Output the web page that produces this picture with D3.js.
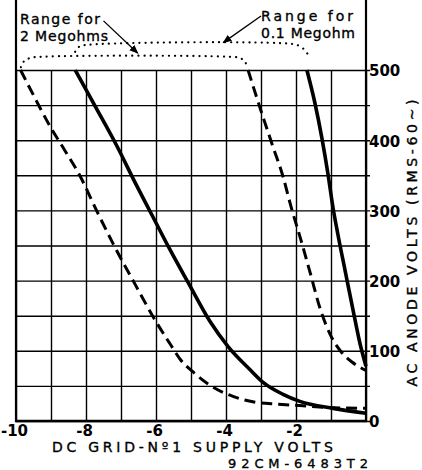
<!DOCTYPE html>
<html>
<head>
<meta charset="utf-8">
<script src="https://cdn.jsdelivr.net/npm/d3@7"></script>
<style>
  body { margin: 0; background: #fff; }
  svg { display: block; }
  text { font-family: "DejaVu Sans", sans-serif; fill: #000; }
</style>
</head>
<body>
<script>
// grid and tick values
var xGridValues = [-10, -9, -8, -7, -6, -5, -4, -3, -2, -1, 0];
var yGridValues = [0, 50, 100, 150, 200, 250, 300, 350, 400, 450, 500];
var xTickLabels = [-10, -8, -6, -4, -2];
var yTickLabels = [0, 100, 200, 300, 400, 500];

// 2 megohm curves (dashed), [grid volts, anode volts]
var meg2Left = [[-9.87, 500], [-9.5, 464], [-9.03, 420], [-8.6, 385], [-8.17, 349], [-7.7, 300],
  [-7.2, 250], [-6.6, 195], [-6.03, 144], [-5.6, 110], [-5.31, 88], [-4.9, 68], [-4.46, 51],
  [-3.8, 35], [-3.2, 27], [-2.5, 24], [-1.9, 22], [-0.94, 19], [0, 18]];
var meg2Right = [[-3.37, 500], [-3.06, 451], [-2.66, 391], [-2.37, 348], [-2.14, 305], [-1.86, 258],
  [-1.6, 212], [-1.31, 160], [-1.0, 121], [-0.7, 98], [-0.4, 84], [0, 72]];

// 0.1 megohm curves (solid)
var meg01Left = [[-8.31, 500], [-7.7, 445], [-7.11, 391], [-6.6, 340], [-6.09, 291], [-5.6, 244],
  [-5.08, 197], [-4.46, 142], [-3.94, 106], [-3.31, 73], [-2.94, 55], [-2.37, 38], [-1.89, 28],
  [-0.94, 18], [0, 11]];
var meg01Right = [[-1.69, 500], [-1.46, 453], [-1.26, 403], [-1.09, 353], [-0.94, 303], [-0.8, 265],
  [-0.6, 215], [-0.37, 158], [-0.17, 110], [0, 78]];

// dotted range brackets above the grid
var meg2Range = [[-9.86, 504], [-9.78, 512], [-9.6, 517], [-9.2, 519], [-4, 519], [-3.6, 517],
  [-3.46, 512], [-3.39, 504]];
var meg01Range = [[-8.31, 526], [-8.2, 533], [-7.9, 536], [-2.1, 537], [-1.9, 534], [-1.74, 528],
  [-1.67, 523]];

// arrows from the labels to the brackets
var meg2Arrow = [[-7.5, 570], [-6.52, 524]];
var meg01Arrow = [[-3.0, 577], [-4.08, 539]];

var W = 422, H = 470;
var svg = d3.select("body").append("svg")
  .attr("width", W)
  .attr("height", H);

var x = d3.scaleLinear().domain([-10, 0]).range([16, 366]);
var y = d3.scaleLinear().domain([0, 500]).range([421, 70]);

svg.append("defs").append("marker")
  .attr("id", "arr")
  .attr("viewBox", "0 0 10 10")
  .attr("refX", 9).attr("refY", 5)
  .attr("markerWidth", 7).attr("markerHeight", 7)
  .attr("orient", "auto")
  .append("path")
  .attr("d", "M0,1 L10,5 L0,9 Z")
  .attr("fill", "#000");

// vertical grid
var gx = svg.append("g")
  .attr("transform", "translate(0," + y(0) + ")")
  .call(d3.axisBottom(x).tickValues(xGridValues).tickSize(-(y(0) - y(500))).tickFormat(""));
gx.select(".domain").remove();
gx.selectAll(".tick line").attr("stroke", "#000").attr("stroke-width", 1.4);

// horizontal grid
var gy = svg.append("g")
  .attr("transform", "translate(" + x(-10) + ",0)")
  .call(d3.axisRight(y).tickValues(yGridValues).tickSize(x(0) - x(-10) + 4).tickFormat(""));
gy.select(".domain").remove();
gy.selectAll(".tick line").attr("stroke", "#000").attr("stroke-width", 1.4);

// frame: side rules run to the top of the picture
svg.append("line").attr("x1", x(-10)).attr("x2", x(-10)).attr("y1", 0).attr("y2", y(0) + 1)
  .attr("stroke", "#000").attr("stroke-width", 2.2);
svg.append("line").attr("x1", x(0)).attr("x2", x(0)).attr("y1", 0).attr("y2", y(0) + 1)
  .attr("stroke", "#000").attr("stroke-width", 2.2);
svg.append("line").attr("x1", x(-10) - 1).attr("x2", x(0) + 1).attr("y1", y(0)).attr("y2", y(0))
  .attr("stroke", "#000").attr("stroke-width", 2.6);

// x tick labels
var xl = svg.append("g")
  .attr("transform", "translate(-2," + (y(0) + 2) + ")")
  .call(d3.axisBottom(x).tickValues(xTickLabels).tickSize(0).tickPadding(2)
    .tickFormat(function (d) { return "-" + Math.abs(d); }));
xl.select(".domain").remove();
xl.selectAll("text").style("font-family", "DejaVu Sans").style("font-size", "15px")
  .style("font-weight", "bold");

// y tick labels
var yl = svg.append("g")
  .attr("transform", "translate(" + x(0) + ",1)")
  .call(d3.axisRight(y).tickValues(yTickLabels).tickSize(0).tickPadding(3));
yl.select(".domain").remove();
yl.selectAll("text").style("font-family", "DejaVu Sans").style("font-size", "15px")
  .style("font-weight", "bold");

var line = d3.line()
  .x(function (d) { return x(d[0]); })
  .y(function (d) { return y(d[1]); })
  .curve(d3.curveMonotoneX);

function drawCurve(data, dash, width) {
  svg.append("path")
    .datum(data)
    .attr("d", line)
    .attr("fill", "none")
    .attr("stroke", "#000")
    .attr("stroke-width", width)
    .attr("stroke-dasharray", dash);
}
drawCurve(meg2Left, "11,6", 3);
drawCurve(meg2Right, "11,6", 3);
drawCurve(meg01Left, null, 3.6);
drawCurve(meg01Right, null, 3.6);

var bracket = d3.line()
  .x(function (d) { return x(d[0]); })
  .y(function (d) { return y(d[1]); })
  .curve(d3.curveCatmullRom);

[meg2Range, meg01Range].forEach(function (r) {
  svg.append("path")
    .datum(r)
    .attr("d", bracket)
    .attr("fill", "none")
    .attr("stroke", "#000")
    .attr("stroke-width", 2.2)
    .attr("stroke-linecap", "round")
    .attr("stroke-dasharray", "0.1,6");
});

[meg2Arrow, meg01Arrow].forEach(function (a) {
  svg.append("line")
    .attr("x1", x(a[0][0])).attr("y1", y(a[0][1]))
    .attr("x2", x(a[1][0])).attr("y2", y(a[1][1]))
    .attr("stroke", "#000").attr("stroke-width", 1.3)
    .attr("marker-end", "url(#arr)");
});

// annotation text
function label(t, px, py, len, size) {
  return svg.append("text")
    .attr("x", px).attr("y", py)
    .attr("textLength", len)
    .attr("lengthAdjust", "spacing")
    .style("font-size", size + "px")
    .style("stroke", "#000")
    .style("stroke-width", 0.35)
    .text(t);
}
label("Range  for", 20, 24, 80, 14);
label("2 Megohms", 20, 41, 88, 14);
label("Range   for", 261, 21, 92, 14);
label("0.1 Megohm", 261, 38, 94, 14);

// axis titles
label("DC  GRID-Nº1  SUPPLY  VOLTS", 52, 452, 281, 14);
label("92CM-6483T2", 228, 468, 140, 13);

svg.append("text")
  .attr("transform", "translate(417,243) rotate(-90)")
  .attr("text-anchor", "middle")
  .attr("textLength", 287)
  .attr("lengthAdjust", "spacing")
  .style("font-size", "14px")
  .style("stroke", "#000")
  .style("stroke-width", 0.35)
  .text("AC ANODE VOLTS (RMS-60~)");
</script>
</body>
</html>
